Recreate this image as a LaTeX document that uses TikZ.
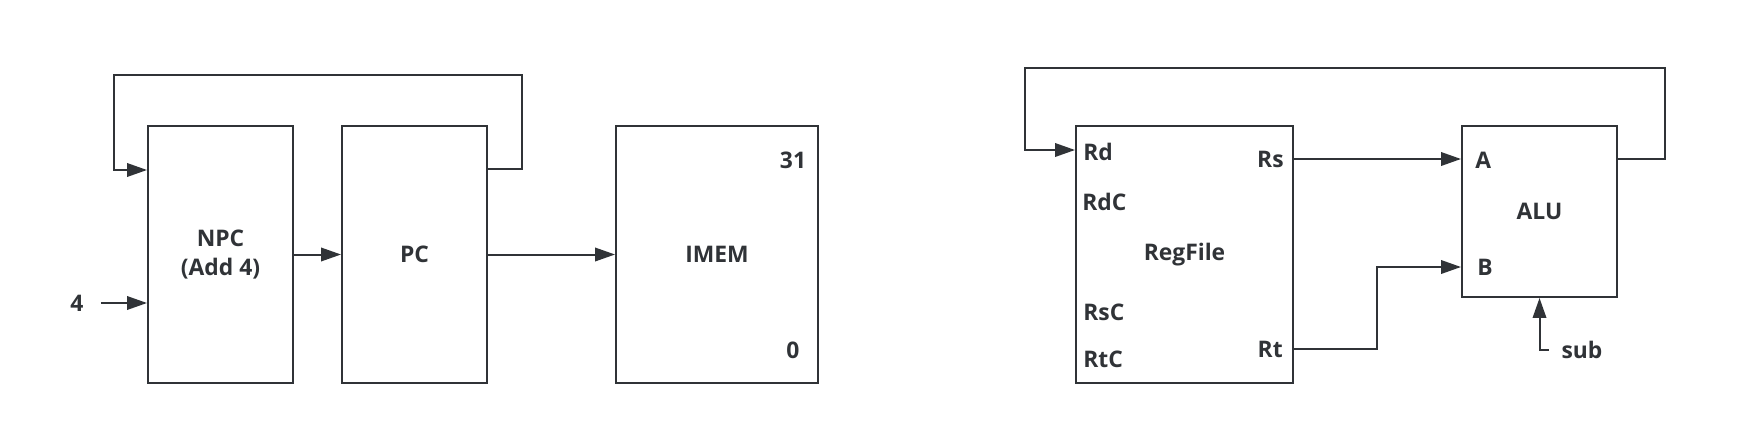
\documentclass[tikz,border=0pt]{standalone}
\usepackage{fontspec}
\setmainfont{Open Sans}
\usepackage{xcolor}
\usepackage{tikz}
\usetikzlibrary{arrows.meta, positioning, calc}
\definecolor{ink}{RGB}{48,51,55}

\begin{document}
\begin{tikzpicture}[x=0.02cm, y=-0.02cm]
    % Define styles
    \tikzstyle{block} = [rectangle, draw=ink, line width=0.04cm, minimum height=5.14cm, inner sep=0, text=ink, font=\fontsize{13}{16}\selectfont\bfseries, align=center]
    \tikzstyle{port} = [inner sep=0, text=ink, font=\fontsize{13}{16}\selectfont\bfseries]
    \tikzstyle{wire} = [draw=ink, line width=0.04cm]
    \tikzstyle{arr} = [wire, -{Triangle[length=0.4cm, width=0.27cm]}]

    \useasboundingbox (0,0) rectangle (1746,436);

    % Fetch side blocks
    \node[block, minimum width=2.9cm] (npc) at (220.5,254.5) {NPC\\(Add 4)};
    \node[block, minimum width=2.9cm] (pc) at (414.5,254.5) {PC};
    \node[block, minimum width=4.04cm] (imem) at (717,254.5) {IMEM};
    \node[port] (four) at (77,303) {4};
    \node[port] (top31) at (793,160) {31};
    \node[port] (bot0) at (793,350) {0};

    % Execute side blocks
    \node[block, minimum width=4.34cm] (regfile) at (1184.5,254.5) {RegFile};
    \node[block, minimum width=3.1cm, minimum height=3.42cm] (alu) at (1539.5,211.5) {ALU};

    % RegFile ports
    \node[port, anchor=west] (rd) at (1083,152) {Rd};
    \node[port, anchor=west] (rdc) at (1082,202) {RdC};
    \node[port, anchor=west] (rsc) at (1083,312) {RsC};
    \node[port, anchor=west] (rtc) at (1083,359) {RtC};
    \node[port, anchor=east] (rs) at (1284,159) {Rs};
    \node[port, anchor=east] (rt) at (1283,349) {Rt};

    % ALU ports
    \node[port, anchor=west] (alua) at (1475,160) {A};
    \node[port, anchor=west] (alub) at (1477,267) {B};
    \node[port] (sub) at (1582,350) {sub};

    % Bend points
    \coordinate (pcloop) at (522,75);
    \coordinate (npcloop) at (114,170);
    \coordinate (aluloop) at (1665,68);
    \coordinate (rdloop) at (1025,150);
    \coordinate (rtbend) at (1377,300);

    % Fetch connections
    \draw[arr] ([yshift=-0.88cm]pc.north east) -| (pcloop) -| (npcloop) -- (npc.west |- npcloop);
    \draw[arr] ([xshift=0.48cm]four.center) -- (npc.west |- four);
    \draw[arr] (npc) -- (pc);
    \draw[arr] (pc) -- (imem);

    % Execute connections
    \draw[arr] (regfile.east |- rs) -- (alu.west |- rs);
    \draw[arr] (regfile.east |- rt) -- (rtbend |- rt) -- (rtbend |- alub) -- (alu.west |- alub);
    \draw[arr] (alu.east |- rs) -| (aluloop) -| (rdloop) -- (regfile.west |- rdloop);
    \draw[arr] ([xshift=-0.25cm]sub.west) -| (alu.south);

\end{tikzpicture}
\end{document}
